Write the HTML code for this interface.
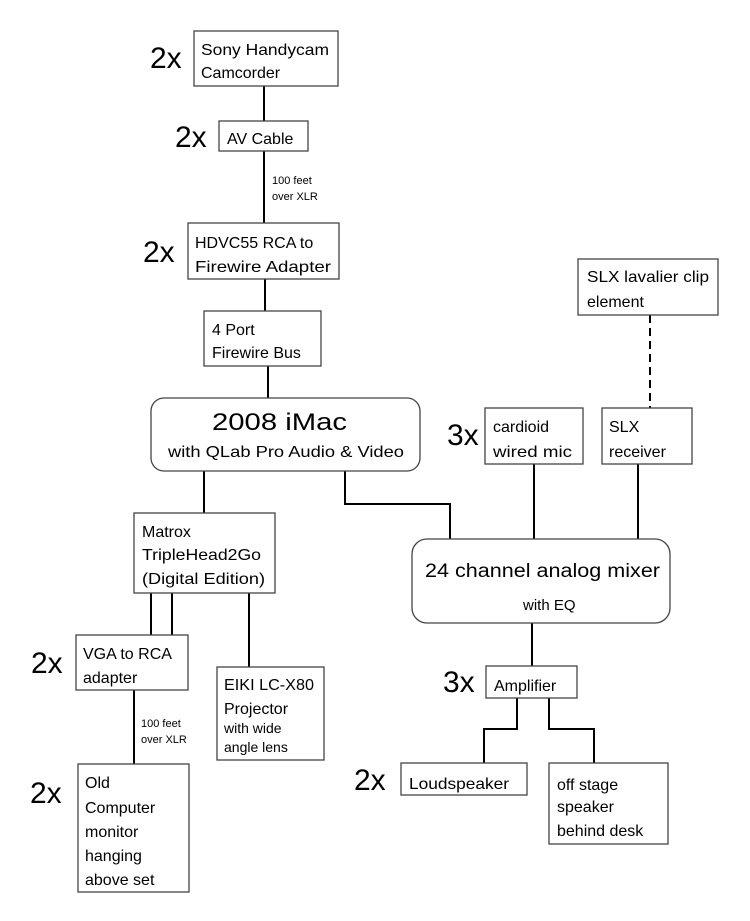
<!DOCTYPE html>
<html><head><meta charset="utf-8"><style>html,body{margin:0;padding:0;background:#fff}svg{display:block}</style></head>
<body>
<svg width="750" height="921" viewBox="0 0 750 921" xmlns="http://www.w3.org/2000/svg" font-family="Liberation Sans, sans-serif" fill="#000">
<g stroke="#000" stroke-width="2" fill="none">
<line x1="264" y1="86" x2="264" y2="121"/>
<line x1="264" y1="151" x2="264" y2="223"/>
<line x1="265" y1="279" x2="265" y2="311"/>
<line x1="268" y1="366" x2="268" y2="398"/>
<line x1="204" y1="471" x2="204" y2="513"/>
<polyline points="345,471 345,504 450,504 450,539"/>
<line x1="534" y1="464" x2="534" y2="539"/>
<line x1="638" y1="464" x2="638" y2="539"/>
<line x1="650" y1="315" x2="650" y2="408" stroke-dasharray="8,5"/>
<line x1="151" y1="593" x2="151" y2="635"/>
<line x1="172" y1="593" x2="172" y2="635"/>
<line x1="249" y1="593" x2="249" y2="667"/>
<line x1="134" y1="690" x2="134" y2="764"/>
<line x1="532" y1="623" x2="532" y2="666"/>
<polyline points="517,698 517,729 484,729 484,763"/>
<polyline points="549,698 549,729 594,729 594,763"/>
</g>
<g stroke="#444" stroke-width="1.3" fill="#fff">
<rect x="194" y="31" width="144" height="55"/>
<rect x="219" y="121" width="89" height="30"/>
<rect x="188" y="223" width="151" height="56"/>
<rect x="204" y="311" width="117" height="55"/>
<rect x="151" y="398" width="269" height="73" rx="13"/>
<rect x="578" y="259" width="140" height="56"/>
<rect x="485" y="408" width="98" height="56"/>
<rect x="602" y="408" width="90" height="56"/>
<rect x="412" y="539" width="258" height="84" rx="15"/>
<rect x="134" y="513" width="141" height="80"/>
<rect x="76" y="635" width="112" height="55"/>
<rect x="78" y="764" width="111" height="128"/>
<rect x="217" y="667" width="107" height="93"/>
<rect x="486" y="666" width="91" height="32"/>
<rect x="401" y="763" width="126" height="32"/>
<rect x="549" y="763" width="119" height="81"/>
</g>
<g font-size="30">
<text x="150" y="68">2x</text>
<text x="175" y="147">2x</text>
<text x="143" y="262">2x</text>
<text x="447" y="445">3x</text>
<text x="31" y="673">2x</text>
<text x="30" y="803">2x</text>
<text x="443" y="692">3x</text>
<text x="354" y="790">2x</text>
</g>
<g font-size="16">
<text x="201" y="55" textLength="128" lengthAdjust="spacingAndGlyphs">Sony Handycam</text>
<text x="201" y="78">Camcorder</text>
<text x="227" y="144">AV Cable</text>
<text x="195" y="248">HDVC55 RCA to</text>
<text x="195" y="272" textLength="136" lengthAdjust="spacingAndGlyphs">Firewire Adapter</text>
<text x="212" y="335">4 Port</text>
<text x="212" y="358">Firewire Bus</text>
<text x="587" y="282" textLength="122" lengthAdjust="spacingAndGlyphs">SLX lavalier clip</text>
<text x="587" y="307">element</text>
<text x="493" y="432">cardioid</text>
<text x="493" y="457" textLength="79" lengthAdjust="spacingAndGlyphs">wired mic</text>
<text x="609" y="432">SLX</text>
<text x="609" y="457">receiver</text>
<text x="142" y="537">Matrox</text>
<text x="142" y="560" textLength="119" lengthAdjust="spacingAndGlyphs">TripleHead2Go</text>
<text x="142" y="584" textLength="123" lengthAdjust="spacingAndGlyphs">(Digital Edition)</text>
<text x="83" y="659">VGA to RCA</text>
<text x="83" y="683">adapter</text>
<text x="85" y="788">Old</text>
<text x="85" y="813">Computer</text>
<text x="85" y="837">monitor</text>
<text x="85" y="861">hanging</text>
<text x="85" y="885">above set</text>
<text x="224" y="690" textLength="90" lengthAdjust="spacingAndGlyphs">EIKI LC-X80</text>
<text x="224" y="714">Projector</text>
<text x="494" y="691">Amplifier</text>
<text x="409" y="789" textLength="100" lengthAdjust="spacingAndGlyphs">Loudspeaker</text>
<text x="557" y="790">off stage</text>
<text x="557" y="812">speaker</text>
<text x="557" y="836">behind desk</text>
</g>
<g font-size="14">
<text x="224" y="733">with wide</text>
<text x="224" y="752">angle lens</text>
</g>
<text x="523" y="610" font-size="15">with EQ</text>
<g font-size="11">
<text x="272" y="184">100 feet</text>
<text x="272" y="200">over XLR</text>
<text x="141" y="727">100 feet</text>
<text x="141" y="743">over XLR</text>
</g>
<text x="212" y="430" font-size="24" textLength="135" lengthAdjust="spacingAndGlyphs">2008 iMac</text>
<text x="168" y="457" font-size="16" textLength="236" lengthAdjust="spacingAndGlyphs">with QLab Pro Audio &amp; Video</text>
<text x="425" y="577" font-size="19" textLength="235" lengthAdjust="spacingAndGlyphs">24 channel analog mixer</text>
</svg>
</body></html>
